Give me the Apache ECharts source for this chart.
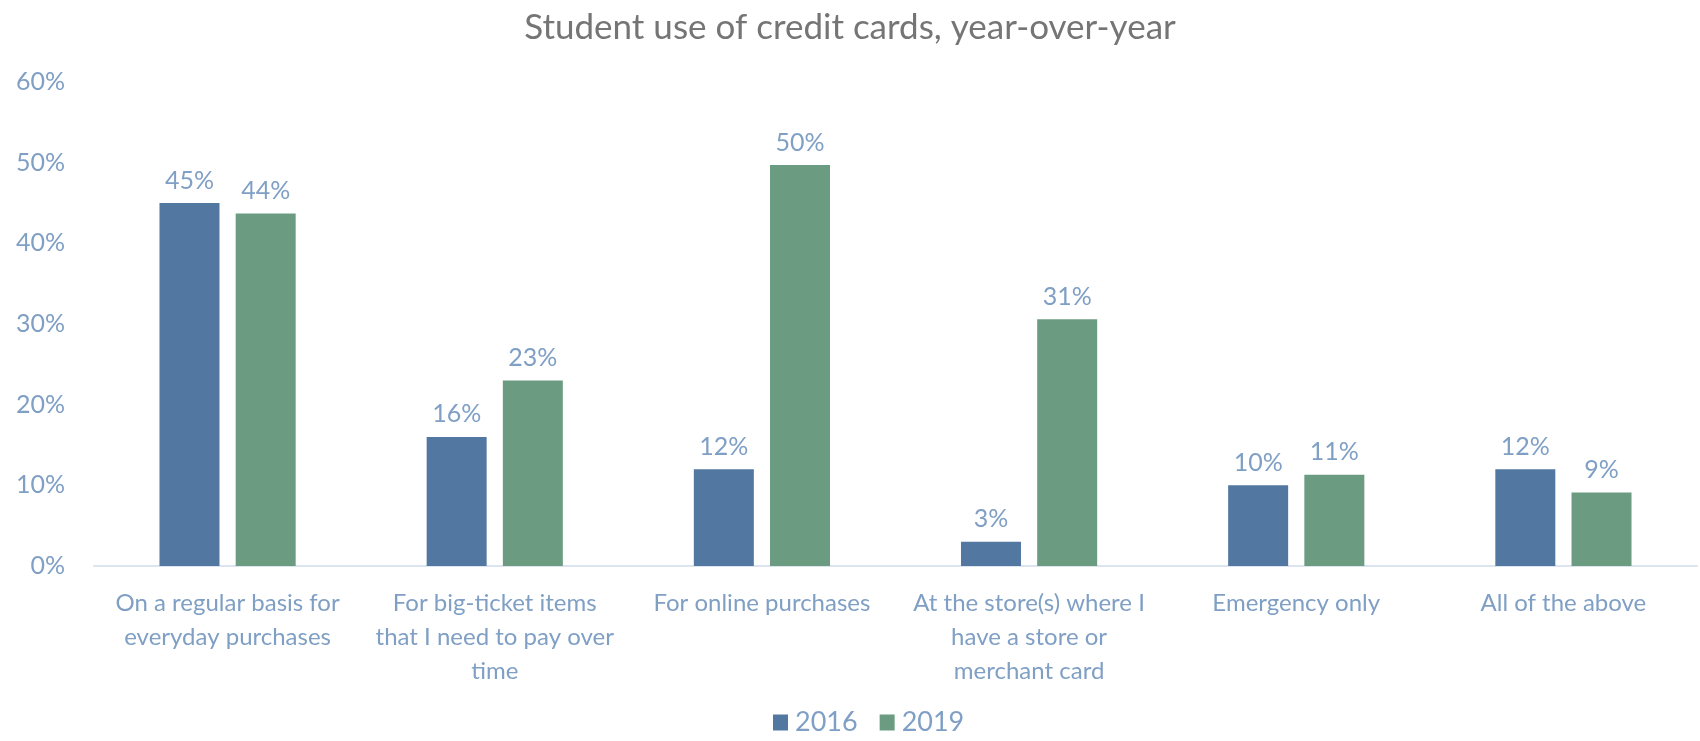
<!DOCTYPE html>
<html>
<head>
<meta charset="utf-8">
<title>Student use of credit cards</title>
<script src="https://cdn.jsdelivr.net/npm/echarts@6/dist/echarts.min.js"></script>
<style>
  html, body { margin: 0; padding: 0; background: #fff; }
  #chart { width: 1700px; height: 741px; }
</style>
</head>
<body>
<div id="chart"></div>
<script>
// data
var categories = [
  'On a regular basis for\neveryday purchases',
  'For big-ticket items\nthat I need to pay over\ntime',
  'For online purchases',
  'At the store(s) where I\nhave a store or\nmerchant card',
  'Emergency only',
  'All of the above'
];
var y2016 = [45, 16, 12, 3, 10, 12];
var y2019 = [43.7, 23, 49.7, 30.6, 11.3, 9.1];
var yTicks = [0, 10, 20, 30, 40, 50, 60];

var labelColor = '#7f9fc4';
var fontFam = 'Lato, "Open Sans", sans-serif';

var chart = echarts.init(document.getElementById('chart'));

function pct(p) { return Math.round(p.value) + '%'; }

chart.setOption({
  animation: false,
  textStyle: { fontFamily: fontFam },
  title: {
    text: 'Student use of credit cards, year-over-year',
    left: 'center',
    top: 5,
    textStyle: { color: '#757575', fontSize: 35, fontWeight: 'normal', fontFamily: fontFam }
  },
  legend: {
    data: ['2016', '2019'],
    bottom: 0,
    left: 768,
    itemWidth: 15,
    itemHeight: 16,
    itemGap: 22,
    icon: 'rect',
    textStyle: { color: labelColor, fontSize: 27, padding: [0, 0, 0, 2], fontFamily: fontFam }
  },
  grid: { left: 94, right: 3, top: 82, bottom: 175, containLabel: false },
  xAxis: {
    type: 'category',
    data: categories,
    axisLine: { lineStyle: { color: '#dce4f0', width: 2 } },
    axisTick: { show: false },
    axisLabel: {
      color: labelColor,
      fontSize: 24,
      lineHeight: 34,
      margin: 20,
      interval: 0,
      fontFamily: fontFam
    }
  },
  yAxis: {
    type: 'value',
    min: yTicks[0],
    max: yTicks[yTicks.length - 1],
    interval: 10,
    splitLine: { show: false },
    axisLine: { show: false },
    axisTick: { show: false },
    axisLabel: {
      color: labelColor,
      fontSize: 25,
      margin: 29,
      formatter: '{value}%',
      fontFamily: fontFam
    }
  },
  series: [
    {
      name: '2016',
      type: 'bar',
      data: y2016,
      barWidth: 60,
      barGap: '27%',
      itemStyle: { color: '#5277a0' },
      label: { show: true, position: 'top', distance: 10, color: labelColor, fontSize: 25, formatter: pct }
    },
    {
      name: '2019',
      type: 'bar',
      data: y2019,
      barWidth: 60,
      itemStyle: { color: '#6b9c82' },
      label: { show: true, position: 'top', distance: 10, color: labelColor, fontSize: 25, formatter: pct }
    }
  ]
});
</script>
</body>
</html>
